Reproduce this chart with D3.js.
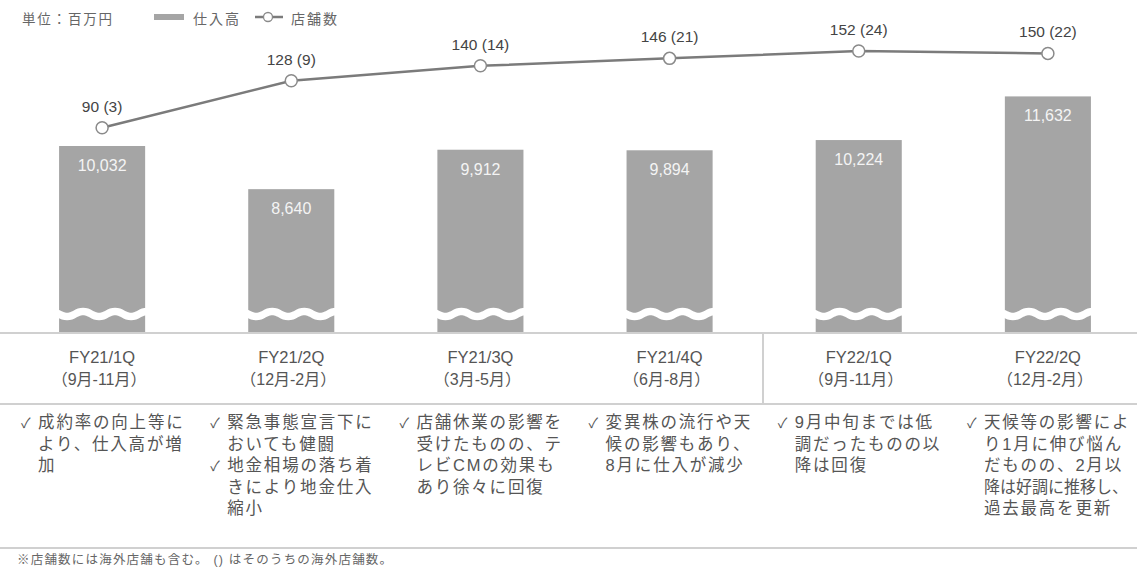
<!DOCTYPE html>
<html>
<head>
<meta charset="utf-8">
<script src="https://cdn.jsdelivr.net/npm/d3@7"></script>
<style>
  body { margin: 0; background: #fff; }
  svg text { font-family: "Liberation Sans", "Noto Sans CJK JP", sans-serif; }
</style>
</head>
<body>
<div id="chart"></div>
<script>
// chart data
var categories = ["FY21/1Q", "FY21/2Q", "FY21/3Q", "FY21/4Q", "FY22/1Q", "FY22/2Q"];
var periods = ["（9月-11月）", "（12月-2月）", "（3月-5月）", "（6月-8月）", "（9月-11月）", "（12月-2月）"];
var purchases = [10032, 8640, 9912, 9894, 10224, 11632];   // 仕入高
var stores = [90, 128, 140, 146, 152, 150];                  // 店舗数
var overseas = [3, 9, 14, 21, 24, 22];                       // うち海外
var notes = [
  [["成約率の向上等に", "より、仕入高が増", "加"]],
  [["緊急事態宣言下に", "おいても健闘"], ["地金相場の落ち着", "きにより地金仕入", "縮小"]],
  [["店舗休業の影響を", "受けたものの、テ", "レビCMの効果も", "あり徐々に回復"]],
  [["変異株の流行や天", "候の影響もあり、", "8月に仕入が減少"]],
  [["9月中旬までは低", "調だったものの以", "降は回復"]],
  [["天候等の影響によ", "り1月に伸び悩ん", "だものの、2月以", "降は好調に推移し、", "過去最高を更新"]]
];

var width = 1137, height = 577;
var baseY = 333;   // bottom of bars / axis line

var svg = d3.select("#chart").append("svg")
    .attr("width", width)
    .attr("height", height);

var x = d3.scaleBand().domain(categories).range([8, 8 + 189 * 6]).paddingInner(0.545).paddingOuter(0.27);
var cx = function(c) { return x(c) + x.bandwidth() / 2; };

// broken axis: bars start at 4,000
var y = d3.scaleLinear().domain([4000, 12000]).range([baseY, 85]);
var y2 = d3.scaleLinear().domain([60, 160]).range([165, 41]);

// bars
svg.selectAll("rect.bar").data(purchases).enter().append("rect")
    .attr("class", "bar")
    .attr("x", function(d, i) { return x(categories[i]); })
    .attr("y", function(d) { return y(d); })
    .attr("width", x.bandwidth())
    .attr("height", function(d) { return baseY - y(d); })
    .attr("fill", "#a5a5a5");

// wavy break across each bar
categories.forEach(function(c) {
  var pts = [];
  for (var px = x(c) - 2; px <= x(c) + x.bandwidth() + 2; px += 2) {
    pts.push([px, 314 + 2.6 * Math.sin((px - x(c)) / 32 * 2 * Math.PI)]);
  }
  svg.append("path")
    .attr("d", d3.line()(pts))
    .attr("fill", "none")
    .attr("stroke", "#fff")
    .attr("stroke-width", 7.5);
});

// bar value labels
svg.selectAll("text.val").data(purchases).enter().append("text")
    .attr("x", function(d, i) { return cx(categories[i]); })
    .attr("y", function(d) { return y(d) + 25; })
    .attr("text-anchor", "middle")
    .attr("font-size", 16)
    .attr("fill", "#f4f4f4")
    .text(function(d) { return d3.format(",")(d); });

// store count line
var line = d3.line()
    .x(function(d, i) { return cx(categories[i]); })
    .y(function(d) { return y2(d); });

svg.append("path")
    .datum(stores)
    .attr("d", line)
    .attr("fill", "none")
    .attr("stroke", "#7b7b7b")
    .attr("stroke-width", 2.5);

svg.selectAll("circle.pt").data(stores).enter().append("circle")
    .attr("cx", function(d, i) { return cx(categories[i]); })
    .attr("cy", function(d) { return y2(d); })
    .attr("r", 6)
    .attr("fill", "#fff")
    .attr("stroke", "#8a8a8a")
    .attr("stroke-width", 1.5);

svg.selectAll("text.pl").data(stores).enter().append("text")
    .attr("x", function(d, i) { return cx(categories[i]); })
    .attr("y", function(d) { return y2(d) - 16; })
    .attr("text-anchor", "middle")
    .attr("font-size", 15.5)
    .attr("fill", "#444")
    .text(function(d, i) { return d + " (" + overseas[i] + ")"; });

// horizontal rules
[baseY, 404, 548].forEach(function(ly) {
  svg.append("line")
    .attr("x1", 0).attr("x2", width)
    .attr("y1", ly).attr("y2", ly)
    .attr("stroke", "#d0d0d0")
    .attr("stroke-width", 2);
});
svg.append("line")  // divider between FY21 and FY22
    .attr("x1", 763).attr("x2", 763)
    .attr("y1", baseY).attr("y2", 404)
    .attr("stroke", "#d0d0d0")
    .attr("stroke-width", 2);

// category labels
categories.forEach(function(c, i) {
  svg.append("text")
    .attr("x", cx(c)).attr("y", 363)
    .attr("text-anchor", "middle")
    .attr("font-size", 16.5)
    .attr("fill", "#555")
    .text(c);
  svg.append("text")
    .attr("x", cx(c) - 3).attr("y", 385)
    .attr("text-anchor", "middle")
    .attr("font-size", 16)
    .attr("fill", "#555")
    .text(periods[i]);
});

// comments under each quarter
categories.forEach(function(c, i) {
  var row = 0;
  notes[i].forEach(function(item) {
    svg.append("text")
      .attr("x", cx(c) - 81).attr("y", 428 + row * 21.6)
      .attr("font-size", 14)
      .attr("fill", "#555")
      .text("✓");
    item.forEach(function(t) {
      var tx = svg.append("text")
        .attr("x", cx(c) - 64).attr("y", 428 + row * 21.6)
        .attr("font-size", 16.5)
        .attr("letter-spacing", 1.8)
        .attr("fill", "#555")
        .text(t);
      if (tx.node().getComputedTextLength() > 148) {
        tx.attr("letter-spacing", null)
          .attr("textLength", 144).attr("lengthAdjust", "spacingAndGlyphs");
      }
      row++;
    });
  });
});

// legend
svg.append("text").attr("x", 22).attr("y", 24)
    .attr("font-size", 13.5).attr("letter-spacing", 1.8).attr("fill", "#666")
    .text("単位：百万円");
svg.append("rect").attr("x", 154).attr("y", 14).attr("width", 30).attr("height", 6)
    .attr("fill", "#a5a5a5");
svg.append("text").attr("x", 193).attr("y", 24)
    .attr("font-size", 14).attr("letter-spacing", 2).attr("fill", "#666")
    .text("仕入高");
svg.append("line").attr("x1", 255).attr("x2", 283).attr("y1", 17).attr("y2", 17)
    .attr("stroke", "#7b7b7b").attr("stroke-width", 2.5);
svg.append("circle").attr("cx", 268).attr("cy", 17).attr("r", 4.5)
    .attr("fill", "#fff").attr("stroke", "#8a8a8a").attr("stroke-width", 1.3);
svg.append("text").attr("x", 291).attr("y", 24)
    .attr("font-size", 14).attr("letter-spacing", 2).attr("fill", "#666")
    .text("店舗数");

// footnote
svg.append("text").attr("x", 17).attr("y", 564)
    .attr("font-size", 12.5).attr("letter-spacing", 1.2).attr("fill", "#666")
    .text("※店舗数には海外店舗も含む。 () はそのうちの海外店舗数。");
</script>
</body>
</html>
